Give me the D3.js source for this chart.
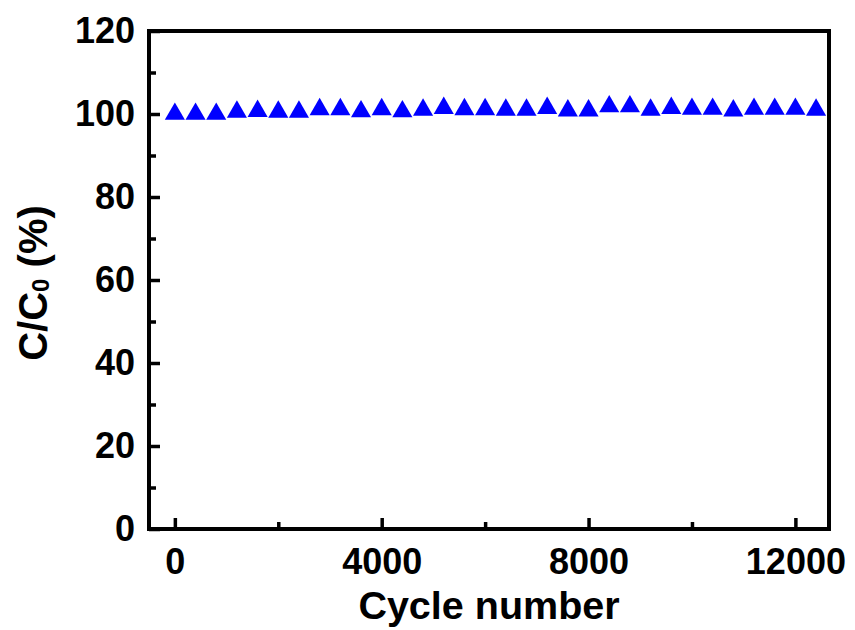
<!DOCTYPE html>
<html><head><meta charset="utf-8">
<script src="https://cdn.jsdelivr.net/npm/d3@7"></script>
<style>body{margin:0;background:#fff}svg{display:block}</style>
</head><body><svg id="c" width="855" height="630"></svg>
<script>
const cycles = [0,400,800,1200,1600,2000,2400,2800,3200,3600,4000,4400,4800,5200,5600,6000,
  6400,6800,7200,7600,8000,8400,8800,9200,9600,10000,10400,10800,11200,11600,12000,12400];
const retention = [100.0,100.0,100.0,100.5,100.7,100.5,100.5,101.1,101.1,100.6,101.1,100.6,101.0,101.4,101.1,101.1,
  101.0,101.0,101.4,100.8,100.8,101.8,101.8,101.0,101.4,101.2,101.2,100.8,101.2,101.2,101.2,101.0];
const xTicks = [0,4000,8000,12000];
const xMinor = [2000,6000,10000];
const yTicks = [0,20,40,60,80,100,120];
const yMinor = [10,30,50,70,90,110];
const xLabel = "Cycle number";

const svg = d3.select("#c");
svg.append("rect").attr("width",855).attr("height",630).attr("fill","#fff");
const L=149,R=829,T=31,B=529;
const x = d3.scaleLinear().domain([-500,12650]).range([L,R]);
const y = d3.scaleLinear().domain([0,120]).range([B,T]);
const font = "'Liberation Sans', Arial, sans-serif";

function style(g){
  g.select(".domain").remove();
  g.selectAll("line").attr("stroke","#000").attr("stroke-width",3.5);
  g.selectAll("text").attr("font-family",font).attr("font-weight","bold").attr("font-size",36).attr("fill","#000");
}
// x axis
svg.append("g").attr("transform",`translate(0,${B})`)
  .call(d3.axisBottom(x).tickValues(xTicks).tickSize(-11).tickPadding(19).tickFormat(d3.format("d"))).call(style);
svg.append("g").attr("transform",`translate(0,${B})`)
  .call(d3.axisBottom(x).tickValues(xMinor).tickSize(-7).tickFormat("")).call(style);
// y axis
svg.append("g").attr("transform",`translate(${L},0)`)
  .call(d3.axisLeft(y).tickValues(yTicks).tickSize(-11).tickPadding(14).tickFormat(d3.format("d"))).call(style);
svg.append("g").attr("transform",`translate(${L},0)`)
  .call(d3.axisLeft(y).tickValues(yMinor).tickSize(-7).tickFormat("")).call(style);
// frame
svg.append("rect").attr("x",L).attr("y",T).attr("width",R-L).attr("height",B-T)
  .attr("fill","none").attr("stroke","#000").attr("stroke-width",4);

// points
const tri = d3.symbol().type(d3.symbolTriangle).size(175);
svg.append("g").selectAll("path").data(cycles.map((c,i)=>[c,retention[i]])).join("path")
  .attr("d",tri).attr("transform",d=>`translate(${x(d[0])},${y(d[1])})`).attr("fill","#0000ff");

// labels
svg.append("text").attr("x",(L+R)/2).attr("y",619).attr("text-anchor","middle")
  .attr("font-family",font).attr("font-weight","bold").attr("font-size",39.5).text(xLabel);
const yl = svg.append("text").attr("transform",`translate(47,${(T+B)/2+3}) rotate(-90)`).attr("text-anchor","middle")
  .attr("font-family",font).attr("font-weight","bold").attr("font-size",40);
yl.append("tspan").text("C/C");
yl.append("tspan").attr("font-size",24).attr("dy",2).text("0");
yl.append("tspan").attr("dy",-2).text(" (%)");
</script></body></html>
